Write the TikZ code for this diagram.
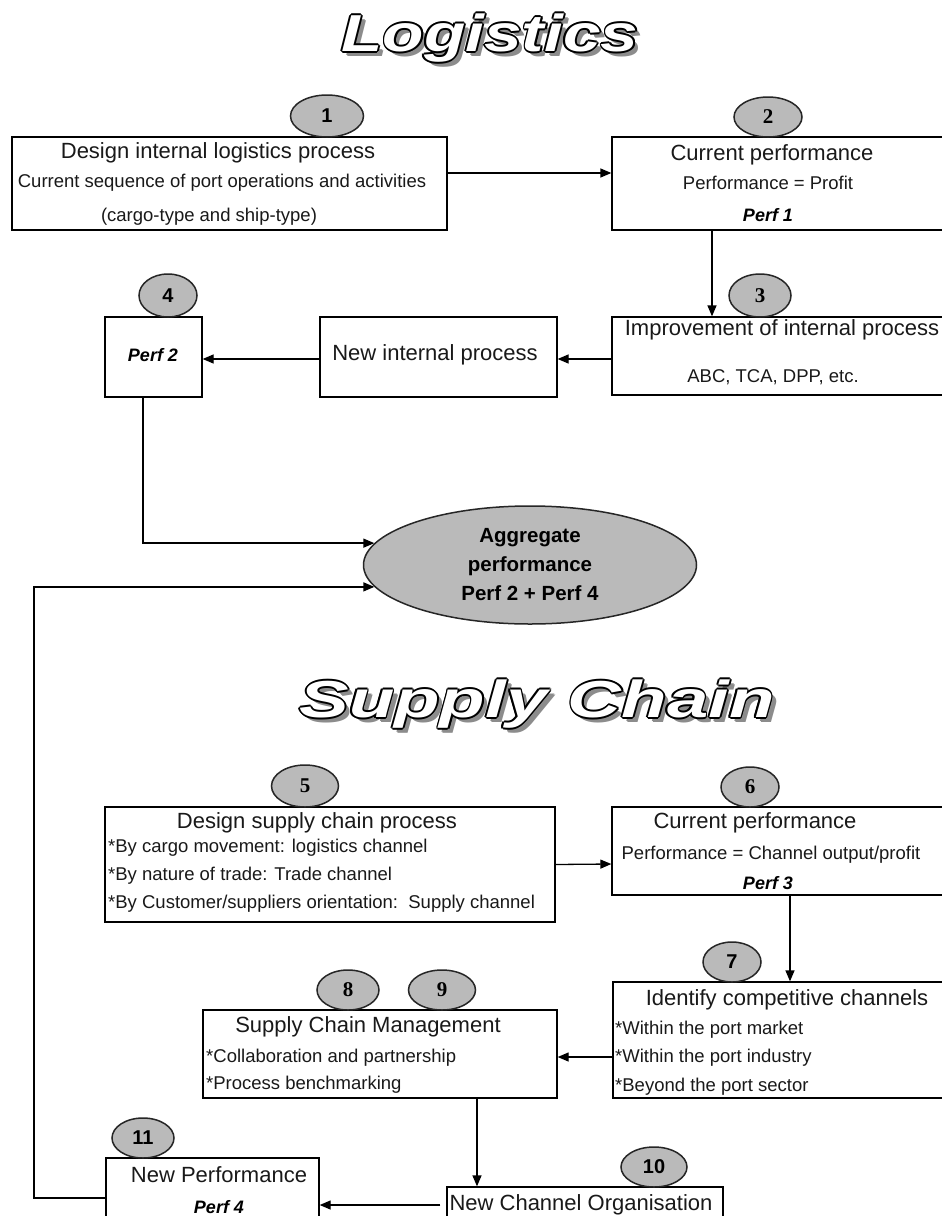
\documentclass[tikz,border=0pt]{standalone}
\usepackage{fontspec}
\setmainfont{Liberation Sans}
\newfontfamily\sernum{Liberation Serif}
\usetikzlibrary{arrows.meta,shapes.geometric}
\tikzset{
  boxst/.style={draw=black, line width=1.3pt, rectangle, inner sep=0pt},
  numel/.style={draw=black!85, line width=1.5pt, ellipse, fill=black!27, inner sep=0pt, font=\fontsize{20}{22}\selectfont\bfseries},
  numser/.style={numel, font=\fontsize{21}{22}\selectfont\sernum\bfseries},
  tbig/.style={inner sep=0pt, font=\fontsize{22}{26}\selectfont, text=black!90},
  tsml/.style={inner sep=0pt, font=\fontsize{18.5}{21}\selectfont, text=black!90},
  tperf/.style={inner sep=0pt, font=\fontsize{18}{20}\selectfont\bfseries\itshape},
  arr/.style={line width=1.3pt, -{Triangle[length=11pt,width=9pt]}},
  ttl/.style={inner sep=0pt, font=\fontsize{52}{56}\selectfont\bfseries\itshape},
}
\begin{document}
\begin{tikzpicture}[x=1pt,y=-1pt]
\useasboundingbox (0,0) rectangle (942,1216);
\fill[white] (0,0) rectangle (942,1216);
\clip (0,0) rectangle (942,1216);

% ---- titles (shadow, outline, white face) ----
\foreach \dx/\dy in {4/4,5/5.5}
  \node[ttl, text=black!45] at (490+\dx,38+\dy) {\scalebox{1.3}[1]{Logistics}};
\foreach \dx/\dy in {-1.8/0,1.8/0,0/-1.8,0/1.8,-1.3/-1.3,1.3/1.3,-1.3/1.3,1.3/-1.3}
  \node[ttl, text=black] at (490+\dx,38+\dy) {\scalebox{1.3}[1]{Logistics}};
\node[ttl, text=white] (tlog) at (490,38) {\scalebox{1.3}[1]{Logistics}};

\foreach \dx/\dy in {4/4,5/5.5}
  \node[ttl, text=black!45] at (537+\dx,704+\dy) {\scalebox{1.43}[1]{Supply Chain}};
\foreach \dx/\dy in {-1.8/0,1.8/0,0/-1.8,0/1.8,-1.3/-1.3,1.3/1.3,-1.3/1.3,1.3/-1.3}
  \node[ttl, text=black] at (537+\dx,704+\dy) {\scalebox{1.43}[1]{Supply Chain}};
\node[ttl, text=white] (tsc) at (537,704) {\scalebox{1.43}[1]{Supply Chain}};

% ---- logistics boxes ----
\node[boxst, minimum width=435pt, minimum height=93pt] (b1) at (229.5,183.5) {};
\node[tbig] (b1a) at (218,153) {Design internal logistics process};
\node[tsml] (b1b) at (222,183) {Current sequence of port operations and activities};
\node[tsml] (b1c) at (209,217) {(cargo-type and ship-type)};

\node[boxst, minimum width=338pt, minimum height=93pt] (b2) at (781,183.5) {};
\node[tbig] (b2a) at (772,155) {Current performance};
\node[tsml] (b2b) at (768,183) {Performance = Profit};
\node[tperf] (b2c) at (768,215) {Perf 1};

\node[boxst, minimum width=338pt, minimum height=78pt] (b3) at (781,356) {};
\node[tbig] (b3a) at (782,330) {Improvement of internal process};
\node[tsml] (b3b) at (773,377) {ABC, TCA, DPP, etc.};

\node[boxst, minimum width=237pt, minimum height=80pt] (bnip) at (438.5,357) {};
\node[tbig] (bnipa) at (435,355) {New internal process};

\node[boxst, minimum width=97pt, minimum height=80pt] (b4) at (153.5,357) {};
\node[tperf] (b4a) at (153,355) {Perf 2};

\node[numel, minimum width=73pt, minimum height=42pt] (e1) at (327,116) {1};
\node[numser, minimum width=68pt, minimum height=40pt] (e2) at (768,117) {2};
\node[numser, minimum width=62pt, minimum height=43pt] (e3) at (760,295.5) {3};
\node[numel, minimum width=58pt, minimum height=43pt] (e4) at (168,295.5) {4};

% ---- aggregate ----
\node[draw=black!85, line width=1.5pt, ellipse, fill=black!27, minimum width=333pt, minimum height=118pt, inner sep=0pt,
      align=center, font=\fontsize{20.5}{29}\selectfont\bfseries] (agg) at (530,565)
      {Aggregate\\performance\\Perf 2 + Perf 4};

% ---- supply chain boxes ----
\node[boxst, minimum width=450pt, minimum height=115pt] (b5) at (330,864.5) {};
\node[tbig] (b5a) at (317,823) {Design supply chain process};
\node[tsml, anchor=west] (b5b) at (108,848) {*By cargo movement: logistics channel};
\node[tsml, anchor=west] (b5c) at (108,876) {*By nature of trade: Trade channel};
\node[tsml, anchor=west] (b5d) at (108,904) {*By Customer/suppliers orientation:\ \ Supply channel};

\node[boxst, minimum width=338pt, minimum height=88pt] (b6) at (781,851) {};
\node[tbig] (b6a) at (755,823) {Current performance};
\node[tsml] (b6b) at (771,855) {Performance = Channel output/profit};
\node[tperf] (b6c) at (768,883) {Perf 3};

\node[boxst, minimum width=337pt, minimum height=116pt] (b7) at (781.5,1040) {};
\node[tbig] (b7a) at (787,1000) {Identify competitive channels};
\node[tsml, anchor=west] (b7b) at (615,1030) {*Within the port market};
\node[tsml, anchor=west] (b7c) at (615,1058) {*Within the port industry};
\node[tsml, anchor=west] (b7d) at (615,1087) {*Beyond the port sector};

\node[boxst, minimum width=354pt, minimum height=88pt] (bscm) at (380,1054) {};
\node[tbig] (bscma) at (368,1027) {Supply Chain Management};
\node[tsml, anchor=west] (bscmb) at (206,1058) {*Collaboration and partnership};
\node[tsml, anchor=west] (bscmc) at (206,1085) {*Process benchmarking};

\node[boxst, minimum width=276pt, minimum height=43pt] (bnco) at (585,1208.5) {};
\node[tbig] (bncoa) at (581,1205) {New Channel Organisation};

\node[boxst, minimum width=213pt, minimum height=72pt] (bnp) at (212.5,1194) {};
\node[tbig] (bnpa) at (219,1175) {New Performance};
\node[tperf] (bnpb) at (219,1207) {Perf 4};

\node[numser, minimum width=67pt, minimum height=42pt] (e5) at (305,786) {5};
\node[numser, minimum width=58pt, minimum height=40pt] (e6) at (750,787) {6};
\node[numel, minimum width=58pt, minimum height=40pt] (e7) at (732,962) {7};
\node[numser, minimum width=62pt, minimum height=40pt] (e8) at (348,990) {8};
\node[numser, minimum width=67pt, minimum height=40pt] (e9) at (442,990) {9};
\node[numel, minimum width=66pt, minimum height=40pt] (e10) at (654,1167) {10};
\node[numel, minimum width=62pt, minimum height=40pt] (e11) at (143,1138) {11};

% ---- connectors ----
\draw[arr] ([yshift=10.5pt]b1.east) -- ([yshift=10.5pt]b2.west);
\draw[arr] ([xshift=-69pt]b2.south) -- ([xshift=-69pt]b3.north);
\draw[arr] ([yshift=-3pt]b3.west) -- ([yshift=-2pt]bnip.east);
\draw[arr] ([yshift=-2pt]bnip.west) -- ([yshift=-2pt]b4.east);
\draw[arr] ([xshift=-10.5pt]b4.south) |- (agg.172.7);
\coordinate (lc) at (34,900);
\draw[arr] ([yshift=-4pt]bnp.west) -| (lc) |- (agg.188.1);

\draw[arr] (b5.east) -- ([yshift=-13pt]b6.west);
\draw[arr] ([xshift=9pt]b6.south) -- ([xshift=8.5pt]b7.north);
\draw[arr] ([yshift=-17pt]b7.west) -- ([yshift=-3pt]bscm.east);
\draw[arr] ([xshift=97pt]bscm.south) -- ([xshift=-108pt]bnco.north);
\draw[arr] ([xshift=-6pt,yshift=3.5pt]bnco.west) -- ([yshift=-11pt]bnp.east);
\end{tikzpicture}
\end{document}
